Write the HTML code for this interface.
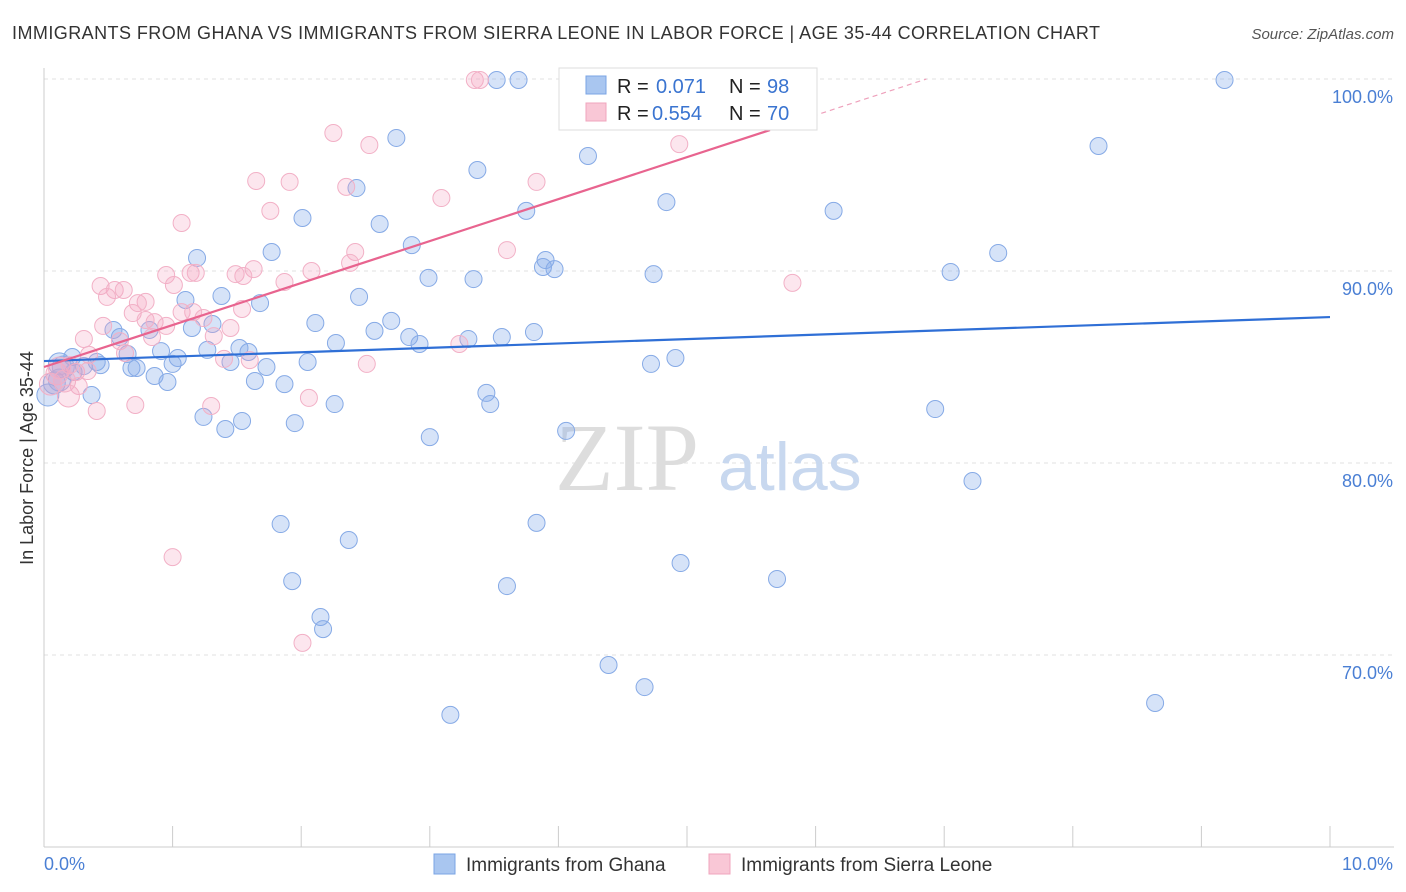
<!DOCTYPE html>
<html><head><meta charset="utf-8"><style>
body{margin:0;background:#fff;font-family:"Liberation Sans",sans-serif;}
svg{display:block}
</style></head><body>
<svg id="chart" width="1406" height="892">
<text x="12" y="39" font-size="18" fill="#333" textLength="1088">IMMIGRANTS FROM GHANA VS IMMIGRANTS FROM SIERRA LEONE IN LABOR FORCE | AGE 35-44 CORRELATION CHART</text>
<text x="1394" y="39" font-size="15" fill="#555" font-style="italic" text-anchor="end">Source: ZipAtlas.com</text>
<text transform="translate(33,458) rotate(-90)" font-size="18" fill="#333" text-anchor="middle">In Labor Force | Age 35-44</text>
<g id="grid"></g>
<text x="555" y="490" font-size="96" fill="#ddd" font-family="Liberation Serif,serif">ZIP</text>
<text x="718" y="490" font-size="68" fill="#c8d8ef">atlas</text>
<g id="pts"></g>
<g id="lines"></g>
<g>
<rect x="559" y="68" width="258" height="62" fill="#fff" stroke="#ddd"/>
<rect x="586" y="76" width="20" height="18" fill="#a9c6f0" stroke="#7aa4e4"/>
<rect x="586" y="103" width="20" height="18" fill="#f9c7d6" stroke="#f0a5bd"/>
<text x="617" y="93" font-size="20" fill="#222">R =</text>
<text x="656" y="93" font-size="20" fill="#3a74d0">0.071</text>
<text x="729" y="93" font-size="20" fill="#222">N =</text>
<text x="767" y="93" font-size="20" fill="#3a74d0">98</text>
<text x="617" y="120" font-size="20" fill="#222">R =</text>
<text x="652" y="120" font-size="20" fill="#3a74d0">0.554</text>
<text x="729" y="120" font-size="20" fill="#222">N =</text>
<text x="767" y="120" font-size="20" fill="#3a74d0">70</text>
</g>
<g>
<rect x="434" y="854" width="21" height="20" fill="#a9c6f0" stroke="#7aa4e4"/>
<text x="466" y="871" font-size="19" fill="#333">Immigrants from Ghana</text>
<rect x="709" y="854" width="21" height="20" fill="#f9c7d6" stroke="#f0a5bd"/>
<text x="741" y="871" font-size="19" fill="#333">Immigrants from Sierra Leone</text>
</g>
</svg>
<script>
const blueX=[4.30,3.52,3.69,9.18,2.74,4.23,8.20,3.37,2.43,2.01,2.61,3.75,4.84,6.14,1.77,1.19,2.86,3.90,3.88,3.97,4.74,2.99,3.34,7.05,7.42,1.10,1.38,1.68,2.45,2.11,2.70,2.57,2.84,2.92,3.30,3.56,3.81,1.15,1.31,0.54,0.82,0.59,2.27,0.91,1.27,1.52,1.59,1.04,1.45,1.00,0.65,0.41,0.44,0.22,0.12,0.23,0.68,0.72,0.86,0.96,1.73,2.05,4.72,4.91,1.64,1.87,3.44,3.47,2.26,0.37,0.08,0.03,1.24,1.41,1.54,1.95,3.00,4.06,6.93,7.22,1.84,2.37,3.83,4.95,1.93,3.60,5.70,2.15,2.17,4.39,4.67,3.16,8.64,0.15,0.31,0.12];
const blueY=[99.95,99.95,99.95,99.95,96.93,95.99,96.51,95.26,94.32,92.76,92.45,93.13,93.59,93.13,90.99,90.68,91.35,90.57,90.21,90.10,89.84,89.64,89.58,89.95,90.94,88.49,88.70,88.33,88.65,87.29,87.40,86.88,86.56,86.20,86.46,86.56,86.82,87.03,87.24,86.93,86.93,86.56,86.25,85.83,85.89,85.99,85.78,85.47,85.26,85.16,85.68,85.26,85.10,85.52,85.16,84.74,84.95,84.95,84.53,84.22,85.00,85.26,85.16,85.47,84.27,84.11,83.65,83.07,83.07,83.54,84.17,83.54,82.40,81.77,82.19,82.08,81.35,81.67,82.81,79.06,76.82,75.99,76.88,74.79,73.85,73.59,73.96,71.98,71.35,69.48,68.33,66.88,67.50,85.00,85.05,84.32];
const pinkX=[3.35,3.39,2.25,2.53,4.94,1.65,1.91,2.35,1.76,3.09,3.83,1.07,2.42,3.60,2.38,1.63,0.95,1.14,1.18,1.49,1.55,1.87,2.08,1.01,0.44,0.55,0.62,0.49,0.79,0.73,1.54,1.07,1.16,1.24,0.69,0.79,0.86,0.95,1.45,0.46,1.32,0.31,0.59,0.84,0.63,0.35,1.40,1.60,2.51,3.23,0.25,0.10,0.34,0.16,0.27,0.71,0.41,1.30,2.06,1.00,2.01,5.82,0.05,0.12,0.20,0.19];
const pinkY=[99.95,99.95,97.19,96.56,96.61,94.69,94.64,94.38,93.13,93.80,94.64,92.50,90.99,91.09,90.42,90.10,89.79,89.90,89.90,89.84,89.74,89.43,90.00,89.27,89.22,89.01,89.01,88.65,88.39,88.33,88.02,87.86,87.86,87.55,87.81,87.45,87.34,87.14,87.03,87.14,86.61,86.46,86.35,86.56,85.73,85.63,85.42,85.36,85.16,86.20,84.74,84.64,84.79,84.27,84.01,83.02,82.71,82.97,83.39,75.10,70.63,89.38,84.11,84.95,85.10,83.49];
const blueTrend=[85.31,87.6];
const pinkTrend=[85.0,97.34];
const yTicks=[100,90,80,70];
const NS="http://www.w3.org/2000/svg";
const sx=v=>44+v*128.6, sy=v=>79+(100-v)*19.2;
function mk(t,a,p){const e=document.createElementNS(NS,t);for(const k in a)e.setAttribute(k,a[k]);p.appendChild(e);return e;}
const grid=document.getElementById('grid');
yTicks.forEach(t=>{
 const l=mk('line',{x1:44,x2:1394,y1:sy(t),y2:sy(t),stroke:'#e2e2e2','stroke-dasharray':'4,4'},grid);
 
 
 const tx=mk('text',{x:1393,y:sy(t)+24,'font-size':18,fill:'#4a7fd4','text-anchor':'end'},grid);
 tx.textContent=t.toFixed(1)+'%';
 
 
});
const ax=mk('line',{x1:44,x2:44,y1:68,y2:847,stroke:'#ccc'},grid);


const bx=mk('line',{x1:44,x2:1394,y1:847,y2:847,stroke:'#ccc'},grid);


for(let i=0;i<=10;i++){const tk=mk('line',{x1:sx(i),x2:sx(i),y1:826,y2:847,stroke:'#ccc'},grid);
 
 }
[['0.0%',44,'start'],['10.0%',1393,'end']].forEach(a=>{const t=mk('text',{x:a[1],y:870,'font-size':18,fill:'#4a7fd4','text-anchor':a[2]},grid);t.textContent=a[0];
 
 });
const pts=document.getElementById('pts');
function draw(X,Y,fill,stroke,name){X.forEach((x,i)=>{const r=(x<0.2)?11:8.5;
 const c=mk('circle',{cx:sx(x),cy:sy(Y[i]),r:r,fill:fill,stroke:stroke,'stroke-width':1},pts);
 
 });}
draw(blueX,blueY,'rgba(130,170,235,0.33)','#86aae6','ghana-point');
draw(pinkX,pinkY,'rgba(245,165,195,0.28)','#f2b0c6','sierra-leone-point');
const lines=document.getElementById('lines');
const bl=mk('line',{x1:sx(0),y1:sy(blueTrend[0]),x2:sx(10),y2:sy(blueTrend[1]),stroke:'#2f6fd6','stroke-width':2.2},lines);


const slope=(pinkTrend[1]-pinkTrend[0])/5.645;
const pl=mk('line',{x1:sx(0),y1:sy(pinkTrend[0]),x2:sx(5.645),y2:sy(pinkTrend[1]),stroke:'#e8648f','stroke-width':2.2},lines);


const xe=(100-pinkTrend[0])/slope;
const pd=mk('line',{x1:sx(5.645),y1:sy(pinkTrend[1]),x2:sx(xe),y2:sy(100),stroke:'#eea0bb','stroke-width':1.2,'stroke-dasharray':'5,4'},lines);


</script>
</body></html>
